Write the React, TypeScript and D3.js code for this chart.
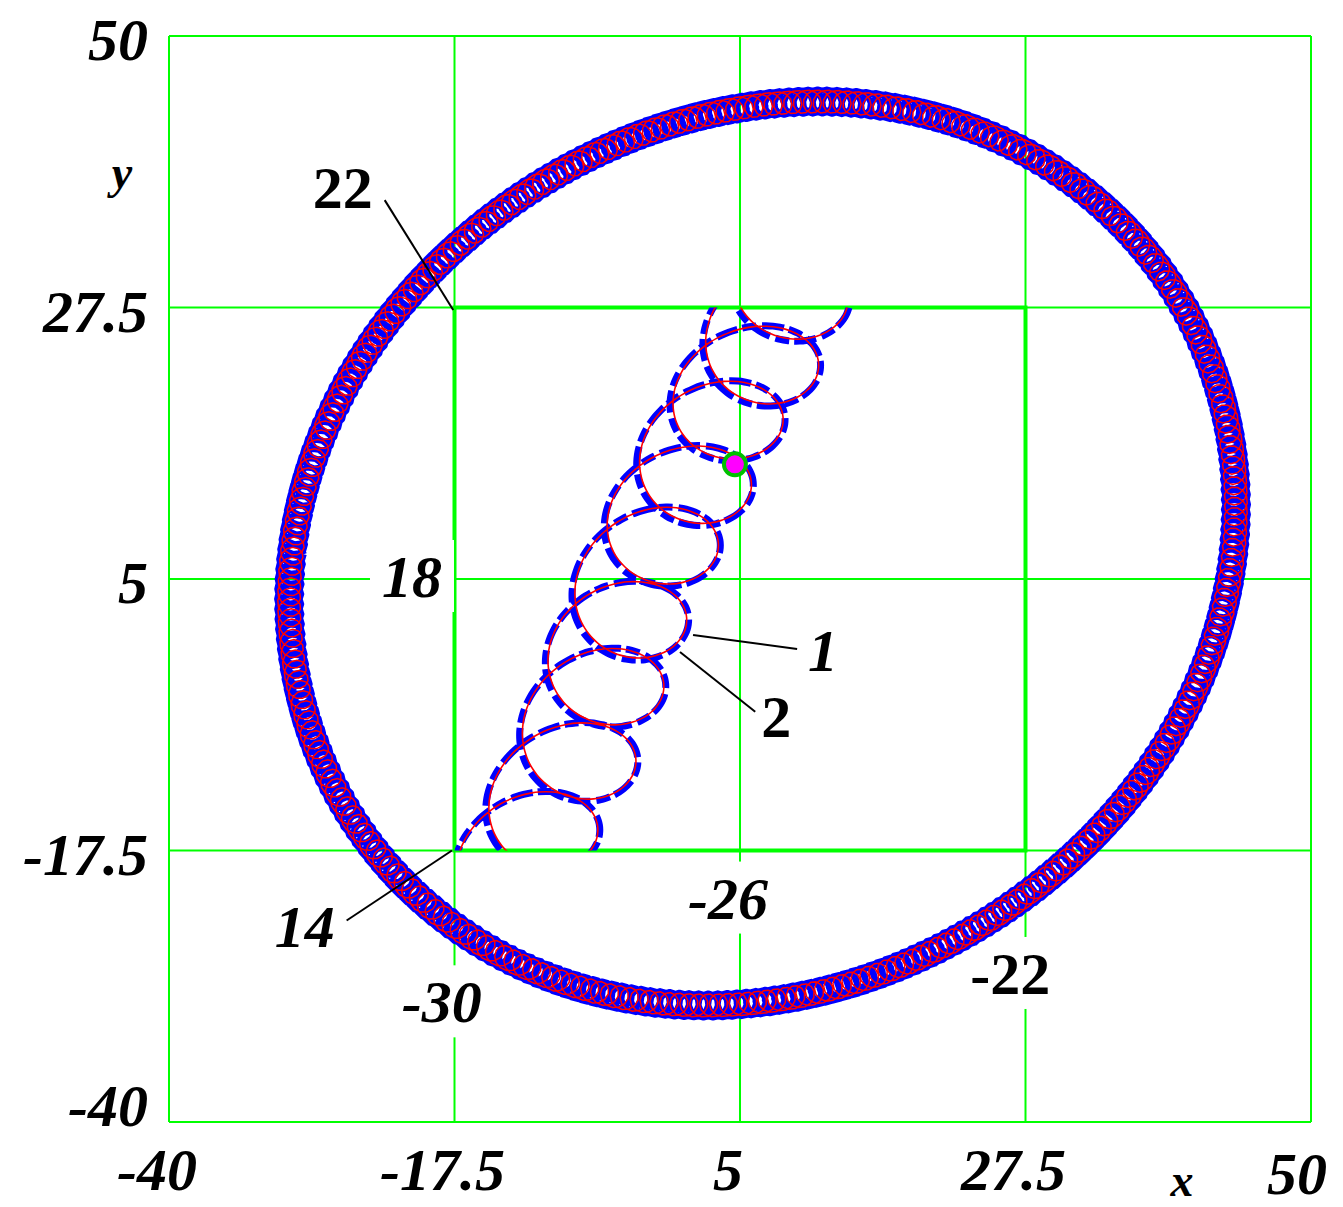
import React from "react";
import * as d3 from "d3";

const WIDTH = 1343;
const HEIGHT = 1207;

const xDomain: [number, number] = [-40, 50];
const yDomain: [number, number] = [-40, 50];
const xTicks = [-40, -17.5, 5, 27.5, 50];
const yTicks = [-40, -17.5, 5, 27.5, 50];
const xTickLabels = ["-40", "-17.5", "5", "27.5", "50"];
const yTickLabels = ["-40", "-17.5", "5", "27.5", "50"];
const innerBox = [-17.5, 27.5];

// outer orbit: points on the centre line of the looped band, clockwise from the top
const orbitX = [11.3, 17.6, 27.5, 33.4, 40.0, 44.2, 43.5, 39.8, 35.7, 31.8, 27.5, 19.2, 16.0, 5.0, 1.85, -6.0, -17.5, -23.5, -29.9, -30.6, -26.7, -21.6, -17.9, -6.0, 1.85];
const orbitY = [44.3, 43.7, 40.6, 36.2, 27.5, 12.4, 5.0, -5.0, -12.5, -18.7, -21.4, -26.7, -27.3, -30.2, -30.1, -29.1, -24.1, -17.5, -5.0, 5.0, 19.8, 27.5, 31.6, 40.7, 43.7];
const orbitLoopRadius = 1.0;
const orbitLoops = [300, 292];

// inner drift: successive loop centres, bottom to top
const driftX = [-16.0, -13.5, -11.2, -8.2, -6.0, -4.2, -1.7, 0.9, 3.4, 6.2, 8.5, 10.5];
const driftY = [-27.0, -21.6, -15.8, -10.1, -3.9, 1.6, 7.8, 12.8, 18.2, 22.7, 28.1, 33.0];
const driftRadiusX = 5.0;
const driftRadiusY = 3.6;

// starting point of the motion
const startX = 4.6;
const startY = 14.5;

// numbered annotations
const noteText = ["22", "18", "14", "-30", "-26", "-22", "1", "2"];
const noteX = [-26.3, -20.85, -29.3, -18.5, 4.05, 26.3, 11.55, 7.85];
const noteY = [37.5, 5.25, -23.75, -30.0, -21.4, -27.65, -0.9, -6.35];
const noteItalic = [false, true, true, true, true, false, true, false];
const noteBackdrop = [false, true, false, true, true, true, false, false];

// leader lines: [x0, y0, x1, y1]
const leaders = [
  [-23.0, 36.4, -17.6, 27.3],
  [-26.0, -23.3, -17.7, -17.5],
  [1.3, 0.36, 9.5, -0.8],
  [0.27, -1.05, 6.2, -6.0],
];

const GREEN = "#00ff00";
const BLUE = "#0000ff";
const RED = "#ff0000";
const FONT = "'Liberation Serif', 'Times New Roman', serif";

// small dense solver for the least-squares normal equations
function solve(A: number[][], b: number[]) {
  const m = b.length;
  const M = A.map((row, i) => [...row, b[i]]);
  for (let c = 0; c < m; c++) {
    let p = c;
    for (let r = c + 1; r < m; r++) if (Math.abs(M[r][c]) > Math.abs(M[p][c])) p = r;
    [M[c], M[p]] = [M[p], M[c]];
    for (let r = 0; r < m; r++) {
      if (r === c) continue;
      const f = M[r][c] / M[c][c];
      for (let k = c; k <= m; k++) M[r][k] -= f * M[c][k];
    }
  }
  return M.map((row, i) => row[m] / row[i]);
}

export default function App() {
  const x = d3.scaleLinear().domain(xDomain).range([169, 1311]);
  const y = d3.scaleLinear().domain(yDomain).range([1122, 36]);
  const kx = Math.abs(x(1) - x(0));
  const ky = Math.abs(y(1) - y(0));
  const TAU = Math.PI * 2;

  // smooth closed guide for the orbit: low-order Fourier fit of radius vs angle
  const guide = orbitX.map((v, i) => [x(v), y(orbitY[i])] as [number, number]);
  const gx = d3.extent(guide, (p) => p[0]) as [number, number];
  const gy = d3.extent(guide, (p) => p[1]) as [number, number];
  const cx = (gx[0] + gx[1]) / 2;
  const cy = (gy[0] + gy[1]) / 2;
  const basis = (t: number) => [1, Math.cos(t), Math.sin(t), Math.cos(2 * t), Math.sin(2 * t)];
  const AtA = basis(0).map(() => basis(0).map(() => 0));
  const Atb = basis(0).map(() => 0);
  guide.forEach(([px, py]) => {
    const t = Math.atan2(py - cy, px - cx);
    const r = Math.hypot(px - cx, py - cy);
    const f = basis(t);
    for (let i = 0; i < f.length; i++) {
      Atb[i] += f[i] * r;
      for (let j = 0; j < f.length; j++) AtA[i][j] += f[i] * f[j];
    }
  });
  const coef = solve(AtA, Atb);
  const radiusAt = (t: number) => d3.sum(basis(t), (f, i) => f * coef[i]);

  const orbitPath = (loops: number, phase: number, rho: number, steps = 12) => {
    const pts: [number, number][] = [];
    const total = loops * steps;
    for (let k = 0; k <= total; k++) {
      const t = -Math.PI + (TAU * k) / total;
      const r = radiusAt(t);
      const ph = (TAU * k) / steps + phase;
      pts.push([cx + r * Math.cos(t) + rho * Math.cos(ph), cy + r * Math.sin(t) + rho * Math.sin(ph)]);
    }
    return d3.line()(pts) as string;
  };

  // the loop centre advances mostly while the point sweeps the left side
  const driftPath = (rScale: number, phase: number, steps = 60) => {
    const c = driftX.map((v, i) => [x(v), y(driftY[i])]);
    const rx = driftRadiusX * kx * rScale;
    const ry = driftRadiusY * ky * rScale;
    const pts: [number, number][] = [];
    for (let i = 0; i < c.length - 1; i++) {
      for (let s = 0; s < steps; s++) {
        const phi = (TAU * s) / steps;
        const w = (phi - Math.sin(phi)) / TAU;
        const px = c[i][0] + (c[i + 1][0] - c[i][0]) * w;
        const py = c[i][1] + (c[i + 1][1] - c[i][1]) * w;
        const th = phi + phase;
        pts.push([px + rx * Math.cos(th), py + ry * Math.sin(th)]);
      }
    }
    return d3.line().curve(d3.curveCatmullRom)(pts) as string;
  };

  const boxX0 = x(innerBox[0]);
  const boxX1 = x(innerBox[1]);
  const boxY0 = y(innerBox[1]);
  const boxY1 = y(innerBox[0]);
  const rhoPx = orbitLoopRadius * ky;
  const lastTick = xTicks.length - 1;

  return (
    <svg width={WIDTH} height={HEIGHT} style={{ position: "absolute", left: 0, top: 0, background: "#fff" }}>
      <defs>
        <clipPath id="inner-box">
          <rect x={boxX0} y={boxY0} width={boxX1 - boxX0} height={boxY1 - boxY0} />
        </clipPath>
      </defs>
      <rect width={WIDTH} height={HEIGHT} fill="#fff" />

      {/* grid */}
      <g stroke={GREEN} strokeWidth={2}>
        {xTicks.map((v) => (
          <line key={"gx" + v} x1={x(v)} x2={x(v)} y1={y(yDomain[1])} y2={y(yDomain[0])} />
        ))}
        {yTicks.map((v) => (
          <line key={"gy" + v} x1={x(xDomain[0])} x2={x(xDomain[1])} y1={y(v)} y2={y(v)} />
        ))}
      </g>
      <rect x={boxX0} y={boxY0} width={boxX1 - boxX0} height={boxY1 - boxY0} fill="none" stroke={GREEN} strokeWidth={4} />

      {/* label backdrops interrupt the grid */}
      {noteText.map((t, i) =>
        noteBackdrop[i] ? (
          <rect key={"bd" + i} x={x(noteX[i]) - t.length * 17 - 8} y={y(noteY[i]) - 36} width={t.length * 34 + 16} height={72} fill="#fff" />
        ) : null
      )}

      {/* outer orbit */}
      <path d={orbitPath(orbitLoops[0], 0, rhoPx)} fill="none" stroke={BLUE} strokeWidth={6} strokeLinejoin="round" />
      <path d={orbitPath(orbitLoops[1], 1.2, rhoPx * 0.95)} fill="none" stroke={RED} strokeWidth={1.5} />

      {/* inner drifting loops */}
      <g clipPath="url(#inner-box)">
        <path d={driftPath(1.03, 0.1)} fill="none" stroke={BLUE} strokeWidth={7} strokeDasharray="22 5 14 6" />
        <path d={driftPath(1, 0)} fill="none" stroke={RED} strokeWidth={1.6} />
      </g>

      {/* start point */}
      <circle cx={x(startX)} cy={y(startY)} r={11} fill="#ff00ff" stroke="#00c000" strokeWidth={4} />

      {/* leaders */}
      <g stroke="#000" strokeWidth={2}>
        {leaders.map((l, i) => (
          <line key={"ld" + i} x1={x(l[0])} y1={y(l[1])} x2={x(l[2])} y2={y(l[3])} />
        ))}
      </g>

      {/* annotations */}
      <g fontFamily={FONT} fontWeight="bold" fontSize={60} fill="#000">
        {noteText.map((t, i) => (
          <text key={"nt" + i} x={x(noteX[i])} y={y(noteY[i]) + 21} textAnchor="middle" fontStyle={noteItalic[i] ? "italic" : "normal"}>
            {t}
          </text>
        ))}
      </g>

      {/* tick labels */}
      <g fontFamily={FONT} fontWeight="bold" fontStyle="italic" fontSize={60} fill="#000">
        {yTicks.map((v, i) => (
          <text key={"yt" + v} x={148} y={Math.min(y(v) + 24, y(yDomain[0]) + 4)} textAnchor="end">
            {yTickLabels[i]}
          </text>
        ))}
        {xTicks.map((v, i) => (
          <text key={"xt" + v} x={x(v) - (i === lastTick ? 14 : 12)} y={i === lastTick ? 1194 : 1190} textAnchor="middle">
            {xTickLabels[i]}
          </text>
        ))}
      </g>
      <g fontFamily={FONT} fontWeight="bold" fontStyle="italic" fontSize={46} fill="#000">
        <text x={122} y={188} textAnchor="middle">y</text>
        <text x={1182} y={1196} textAnchor="middle">x</text>
      </g>
    </svg>
  );
}
